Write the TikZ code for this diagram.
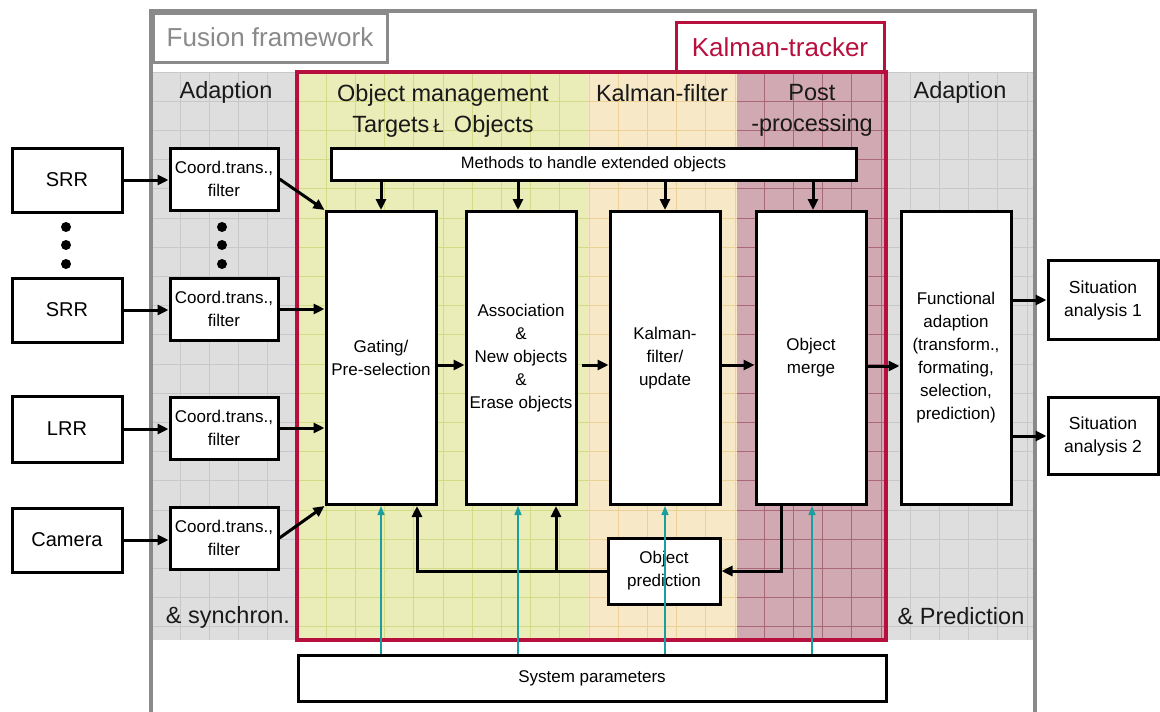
\documentclass[tikz,border=0pt]{standalone}
\usepackage{fontspec}
\setmainfont{Liberation Sans}
\usetikzlibrary{arrows.meta,calc}

\definecolor{frgray}{HTML}{8A8A8A}
\definecolor{ktred}{HTML}{B8103E}
\definecolor{bggray}{HTML}{DEDEDE}
\definecolor{gdgray}{HTML}{C8C8C8}
\definecolor{bgyel}{HTML}{EAEDB8}
\definecolor{gdyel}{HTML}{D2DB86}
\definecolor{bgorg}{HTML}{F7E8C8}
\definecolor{gdorg}{HTML}{EBD196}
\definecolor{bgmau}{HTML}{D1A9B2}
\definecolor{gdmau}{HTML}{A86878}
\definecolor{sysline}{HTML}{1A9E9E}

% grid of one shaded column: x1,y1,x2,y2,fill,line colour
\newcommand\bggrid[6]{%
  \fill[#5] (#1,#2) rectangle (#3,#4);
  \begin{scope}
    \clip (#1,#2) rectangle (#3,#4);
    \foreach \i in {0,...,31}
      \draw[#6,line width=0.9pt] ({151+29.2*\i},72) -- ({151+29.2*\i},640);
    \foreach \j in {0,...,20}
      \draw[#6,line width=0.9pt] (151,{72+29.2*\j}) -- (1035,{72+29.2*\j});
  \end{scope}}

\tikzset{
  box/.style={draw,line width=3pt,fill=white,align=center,inner sep=0pt,
    font=\fontsize{17}{23}\selectfont},
  srcbox/.style={box,minimum width=110pt,minimum height=64pt,font=\fontsize{20}{24}\selectfont},
  ctbox/.style={box,minimum width=108pt,minimum height=62pt},
  tallbox/.style={box,minimum width=110pt,minimum height=293pt},
  sitbox/.style={box,minimum width=110pt,minimum height=79pt,font=\fontsize{17.5}{23}\selectfont},
  arr/.style={line width=3pt,-{Triangle[length=11pt,width=10pt]}},
  sysarr/.style={sysline,line width=1.5pt,-{Triangle[length=9pt,width=7pt]}},
  head/.style={font=\fontsize{23.5}{31}\selectfont,text=black!90,inner sep=0pt},
  dot/.style={circle,fill=black,inner sep=0pt,minimum size=10pt}
}

\begin{document}
\begin{tikzpicture}[x=1pt,y=-1pt]
\useasboundingbox (0,0) rectangle (1160,712);
\fill[white] (0,0) rectangle (1160,712);

% shaded columns with their grids
\bggrid{152}{72}{297}{640}{bggray}{gdgray}
\bggrid{297}{72}{588}{640}{bgyel}{gdyel}
\bggrid{588}{72}{737}{640}{bgorg}{gdorg}
\bggrid{737}{72}{886}{640}{bgmau}{gdmau}
\bggrid{886}{72}{1033}{640}{bggray}{gdgray}

% fusion framework frame and its label
\draw[frgray,line width=4pt] (151,712) -- (151,11) -- (1035,11) -- (1035,712);
\node[draw=frgray,line width=3pt,fill=white,minimum width=234pt,minimum height=49pt,
  inner sep=0pt,text=frgray,font=\fontsize{26}{30}\selectfont] (fwlabel) at (270,37.5) {Fusion framework};

% Kalman-tracker frame and its label
\draw[ktred,line width=4pt] (297,72) rectangle (886,640);
\node[draw=ktred,line width=3pt,fill=white,minimum width=208pt,minimum height=49pt,
  inner sep=0pt,text=ktred,font=\fontsize{26}{30}\selectfont] (ktlabel) at (780,47) {Kalman-tracker};

% column headings
\node[head] (hadl) at (226,92) {Adaption};
\node[head] (hom1) at (443,95) {Object management};
\node[head] (hom2) at (443,126) {Targets\hspace{4pt}{\fontsize{19}{19}\selectfont Ł}\hspace{10pt}Objects};
\node[head] (hkf) at (662,93) {Kalman-filter};
\node[head] (hpp1) at (812,93) {Post};
\node[head] (hpp2) at (812,125) {-processing};
\node[head] (hadr) at (960,92) {Adaption};
\node[head] (hsyn) at (228,617) {\& synchron.};
\node[head] (hpre) at (961,616) {\& Prediction};

% sensors
\node[srcbox] (srr1) at (67,180) {SRR};
\node[srcbox] (srr2) at (67,310) {SRR};
\node[srcbox,minimum height=66pt] (lrr) at (67,429) {LRR};
\node[srcbox] (cam) at (67,540) {Camera};
\node[dot] (d1) at (66,227) {};
\node[dot] (d2) at (66,245) {};
\node[dot] (d3) at (66,264) {};

% input adaption
\node[ctbox] (c1) at (224,179) {Coord.trans.,\\filter};
\node[ctbox] (c2) at (224,309) {Coord.trans.,\\filter};
\node[ctbox] (c3) at (224,428) {Coord.trans.,\\filter};
\node[ctbox] (c4) at (224,538) {Coord.trans.,\\filter};
\node[dot] (e1) at (222,227) {};
\node[dot] (e2) at (222,245) {};
\node[dot] (e3) at (222,264) {};

% tracker chain
\node[box,minimum width=525pt,minimum height=32pt,font=\fontsize{16.5}{20}\selectfont]
  (meth) at (593.5,164) {Methods to handle extended objects};
\node[tallbox] (gate) at (381,358) {Gating/\\Pre-selection};
\node[tallbox] (assoc) at (521,358) {Association\\\&\\New objects\\\&\\Erase objects};
\node[tallbox] (kal) at (665,358) {Kalman-\\filter/\\update};
\node[tallbox] (merge) at (811,358) {Object\\merge};
\node[tallbox] (func) at (956,358) {Functional\\adaption\\(transform.,\\formating,\\selection,\\prediction)};
\node[box,minimum width=112pt,minimum height=66pt] (pred) at (664,571) {Object\\prediction};

% outputs
\node[sitbox] (sit1) at (1103,300) {Situation\\analysis 1};
\node[sitbox,minimum height=77pt] (sit2) at (1103,436) {Situation\\analysis 2};

% system parameters
\node[box,minimum width=588pt,minimum height=46pt] (sys) at (592,678) {System parameters};

% sensor -> adaption
\draw[arr] (srr1.east) -- (srr1.east -| c1.west);
\draw[arr] (srr2.east) -- (srr2.east -| c2.west);
\draw[arr] (lrr.east) -- (lrr.east -| c3.west);
\draw[arr] (cam.east) -- (cam.east -| c4.west);

% adaption -> gating
\draw[arr] (c1.east) -- (gate.north west);
\draw[arr] (c2.east) -- (c2.east -| gate.west);
\draw[arr] (c3.east) -- (c3.east -| gate.west);
\draw[arr] (c4.east) -- (gate.south west);

% methods -> processing blocks
\draw[arr] (meth.south -| gate.north) -- (gate.north);
\draw[arr] (meth.south -| assoc.north) ++(-3,0) coordinate (m2) -- (m2 |- assoc.north);
\draw[arr] (meth.south -| kal.north) -- (kal.north);
\draw[arr] (meth.south -| merge.north) ++(2,0) coordinate (m4) -- (m4 |- merge.north);

% main chain
\draw[arr] ([yshift=-7pt]gate.east) -- ([yshift=-7pt]assoc.west);
\draw[arr] ([xshift=4pt,yshift=-7pt]assoc.east) -- ([yshift=-7pt]kal.west);
\draw[arr] ([yshift=-7pt]kal.east) -- ([yshift=-7pt]merge.west);
\draw[arr] ([yshift=-8pt]merge.east) -- ([yshift=-8pt]func.west);
\draw[arr] (func.east |- sit1.west) -- (sit1.west);
\draw[arr] (func.east |- sit2.west) -- (sit2.west);

% prediction feedback loop
\coordinate (mo) at ([xshift=-30pt]merge.south);
\coordinate (gi) at ([xshift=36pt]gate.south);
\coordinate (ai) at ([xshift=35pt]assoc.south);
\draw[arr] (mo) |- (pred.east);
\draw[arr] (pred.west) -| (gi);
\draw[arr] (pred.west -| ai) -- (ai);

% system parameters -> blocks
\draw[sysarr] (sys.north -| gate.south) -- (gate.south);
\coordinate (s2) at ([xshift=-3pt]assoc.south);
\draw[sysarr] (sys.north -| s2) -- (s2);
\draw[sysarr] (sys.north -| kal.south) -- (kal.south);
\coordinate (s4) at ([xshift=1pt]merge.south);
\draw[sysarr] (sys.north -| s4) -- (s4);
\end{tikzpicture}
\end{document}
